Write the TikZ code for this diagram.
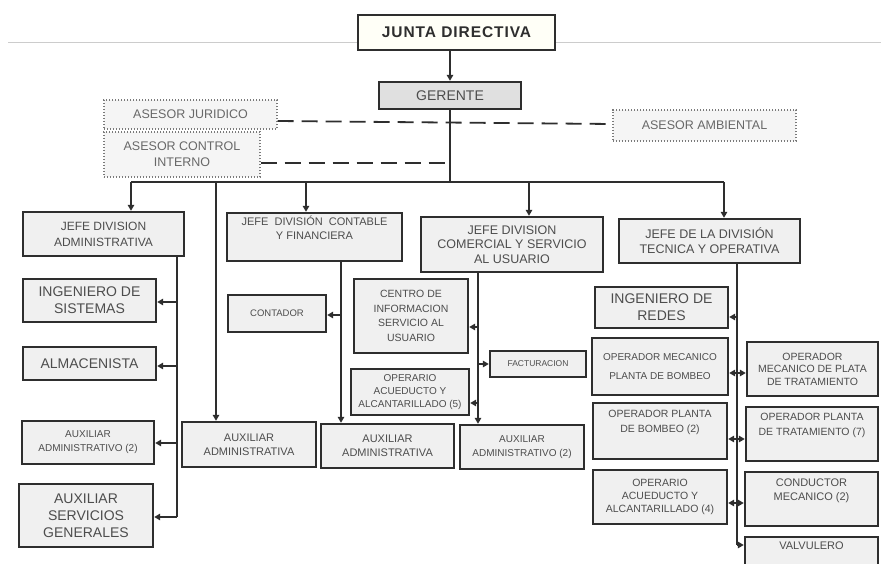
\documentclass[tikz,border=0pt]{standalone}
\usepackage{fontspec}
\setmainfont{Liberation Sans}
\usetikzlibrary{arrows.meta}
\definecolor{bd}{HTML}{2E2E2E}
\definecolor{bx}{HTML}{F0F0F0}
\definecolor{tx}{HTML}{4D4D4D}
\definecolor{dt}{HTML}{7A7A7A}
\newcommand\fsz[2]{\fontsize{#1}{#2}\selectfont}
\tikzset{
  box/.style={draw=bd, line width=2.4pt, fill=bx, text=tx, align=center, inner sep=0pt},
  adv/.style={draw=dt, line width=1.1pt, dash pattern=on 1.1pt off 1.9pt, fill=white!96!black, text=tx!85!white, align=center, inner sep=0pt},
  ln/.style={draw=bd, line width=2pt},
  arr/.style={draw=bd, line width=2pt, -{Triangle[length=6pt,width=6.5pt]}},
  dsh/.style={draw=bd, line width=1.8pt, dash pattern=on 16pt off 8pt},
  lbl/.style={text=tx, align=center, inner sep=0pt}
}
\begin{document}
\begin{tikzpicture}[x=1pt,y=-1pt]
\useasboundingbox (0,0) rectangle (881,563);
\clip (0,0) rectangle (881,563);
\fill[white] (0,0) rectangle (881,563);
% header rule
\draw[black!20, line width=1pt] (8,42) -- (358,42);
\draw[black!20, line width=1pt] (556,42) -- (881,42);

% top
\node[box, fill=white!97!yellow, text=bd, font=\fsz{15.5}{17}\bfseries\addfontfeature{LetterSpace=6}, minimum width=197pt, minimum height=35pt] (junta) at (456.5,32.5) {JUNTA DIRECTIVA};
\node[box, fill=black!12, font=\fsz{14}{16}, minimum width=142pt, minimum height=27pt] (gerente) at (450,95.5) {GERENTE};

% advisors
\node[adv, font=\fsz{12.5}{15}, minimum width=173pt, minimum height=29pt] (ajur) at (190.5,114.5) {ASESOR JURIDICO};
\node[adv, font=\fsz{12.5}{16}, minimum width=156pt, minimum height=45pt] (acon) at (182,154.5) {ASESOR CONTROL\\INTERNO};
\node[adv, font=\fsz{12.5}{15}, minimum width=183pt, minimum height=31pt] (aamb) at (704.5,125.5) {ASESOR AMBIENTAL};

% heads of division
\node[box, font=\fsz{12}{16}, minimum width=161pt, minimum height=44pt] (jadm) at (103.5,234) {JEFE DIVISION\\ADMINISTRATIVA};
\node[box, font=\fsz{11}{14}, minimum width=175pt, minimum height=48pt] (jcon) at (314.5,237) {JEFE\ \ DIVISIÓN\ \ CONTABLE\\Y FINANCIERA\\[4pt]};
\node[box, font=\fsz{12.5}{14.5}, minimum width=182pt, minimum height=55pt] (jcom) at (512,244.5) {JEFE DIVISION\\COMERCIAL Y SERVICIO\\AL USUARIO};
\node[box, font=\fsz{12.5}{15}, minimum width=181pt, minimum height=44pt] (jtec) at (709.5,241) {JEFE DE LA DIVISIÓN\\TECNICA Y OPERATIVA};

% administrative branch
\node[box, font=\fsz{14}{17}, minimum width=133pt, minimum height=43pt] (ising) at (89.5,300.5) {INGENIERO DE\\SISTEMAS};
\node[box, font=\fsz{14}{17}, minimum width=133pt, minimum height=33pt] (alma) at (89.5,363.5) {ALMACENISTA};
\node[box, font=\fsz{10}{14}, minimum width=132pt, minimum height=43pt] (auxadm) at (88,442.5) {AUXILIAR\\ADMINISTRATIVO (2)};
\node[box, font=\fsz{14}{17}, minimum width=134pt, minimum height=63pt] (auxsg) at (86,515.5) {AUXILIAR\\SERVICIOS\\GENERALES};
\node[box, font=\fsz{11}{14}, minimum width=134pt, minimum height=45pt] (auxa1) at (249,444.5) {AUXILIAR\\ADMINISTRATIVA};

% accounting branch
\node[box, font=\fsz{9.5}{12}, minimum width=98pt, minimum height=37pt] (contador) at (277,313.5) {CONTADOR};
\node[box, font=\fsz{11}{14}, minimum width=133pt, minimum height=44pt] (auxa2) at (387.5,446) {AUXILIAR\\ADMINISTRATIVA};

% commercial branch
\node[box, font=\fsz{10.5}{14.5}, minimum width=114pt, minimum height=74pt] (centro) at (411,316) {CENTRO DE\\INFORMACION\\SERVICIO AL\\USUARIO};
\node[box, font=\fsz{8.5}{11}, minimum width=96pt, minimum height=26pt] (fact) at (538,364) {FACTURACION};
\node[box, font=\fsz{10}{13}, minimum width=118pt, minimum height=46pt] (oper5) at (410,392) {OPERARIO\\ACUEDUCTO Y\\ALCANTARILLADO (5)};
\node[box, font=\fsz{10}{14}, minimum width=124pt, minimum height=44pt] (auxc2) at (522,447) {AUXILIAR\\ADMINISTRATIVO (2)};

% technical branch
\node[box, font=\fsz{14}{17}, minimum width=133pt, minimum height=41pt] (iredes) at (661.5,307.5) {INGENIERO DE\\REDES};
\node[box, font=\fsz{10}{19}, minimum width=136pt, minimum height=57pt] (ompb) at (660,366.5) {OPERADOR MECANICO\\PLANTA DE BOMBEO};
\node[box, font=\fsz{10.5}{12.5}, minimum width=131pt, minimum height=54pt] (ompt) at (812.5,369) {OPERADOR\\MECANICO DE PLATA\\DE TRATAMIENTO};
\node[box, font=\fsz{10.5}{15}, minimum width=134pt, minimum height=56pt] (opb2) at (660,431) {OPERADOR PLANTA\\DE BOMBEO (2)\\[4pt]};
\node[box, font=\fsz{10.5}{15}, minimum width=132pt, minimum height=54pt] (opt2) at (812,434) {OPERADOR PLANTA\\DE TRATAMIENTO (7)\\[4pt]};
\node[box, font=\fsz{10.5}{13}, minimum width=134pt, minimum height=54pt] (oaa4) at (660,497) {OPERARIO\\ACUEDUCTO Y\\ALCANTARILLADO (4)};
\node[box, font=\fsz{11}{14}, minimum width=133pt, minimum height=54pt] (cond) at (811.5,499) {CONDUCTOR\\MECANICO (2)\\[5pt]};
\node[box, minimum width=133pt, minimum height=40pt] (valv) at (811.5,557) {};
\node[lbl, font=\fsz{11}{14}] (valvt) at (811.5,546) {VALVULERO};

% top connections
\draw[arr] (junta.south -| gerente.south) -- (gerente.north);
\draw[dsh] (ajur.east |- 0,121) -- (aamb.west |- 0,124);
\draw[dsh] (acon.east |- 0,163) -- (gerente.south |- 0,163);
\coordinate (bus) at (gerente.south |- 0,182);
\draw[ln] (gerente.south) -- (bus);
\coordinate (d1) at (131,182);
\coordinate (d2) at (216,182);
\coordinate (d3) at (306,182);
\coordinate (d4) at (529,182);
\coordinate (d5) at (724,182);
\draw[ln] (d1) -- (d5);
\draw[arr] (d1) -- (d1 |- jadm.north);
\draw[arr] (d2) -- (d2 |- auxa1.north);
\draw[arr] (d3) -- (d3 |- jcon.north);
\draw[arr] (d4) -- (d4 |- jcom.north);
\draw[arr] (d5) -- (d5 |- jtec.north);

% administrative trunk
\coordinate (at) at (jadm.south -| 177,0);
\draw[ln] (at) -- (at |- 0,517);
\draw[arr] (at |- 0,302) -- (ising.east |- 0,302);
\draw[arr] (at |- 0,366) -- (alma.east |- 0,366);
\draw[arr] (at |- 0,443) -- (auxadm.east |- 0,443);
\draw[arr] (at |- 0,517) -- (auxsg.east |- 0,517);

% accounting trunk
\coordinate (ct) at (jcon.south -| 341,0);
\draw[arr] (ct) -- (ct |- auxa2.north);
\draw[arr] (ct |- 0,315) -- (contador.east |- 0,315);

% commercial trunk
\coordinate (mt) at (jcom.south -| 478,0);
\draw[arr] (mt) -- (mt |- auxc2.north);
\draw[arr] (mt |- 0,327) -- (centro.east |- 0,327);
\draw[arr] (mt |- fact.west) -- (fact.west);
\draw[arr] (mt |- 0,403) -- (oper5.east |- 0,403);

% technical trunk
\coordinate (tt) at (jtec.south -| 737,0);
\draw[ln] (tt) -- (tt |- 0,545);
\draw[arr] (tt |- 0,317) -- (iredes.east |- 0,317);
\draw[arr] (tt |- 0,373) -- (ompb.east |- 0,373);
\draw[arr] (tt |- 0,373) -- (ompt.west |- 0,373);
\draw[arr] (tt |- 0,439) -- (opb2.east |- 0,439);
\draw[arr] (tt |- 0,439) -- (opt2.west |- 0,439);
\draw[arr] (tt |- 0,503) -- (oaa4.east |- 0,503);
\draw[arr] (tt |- 0,503) -- (cond.west |- 0,503);
\draw[arr] (tt |- 0,545) -- (valv.west |- 0,545);
\end{tikzpicture}
\end{document}
